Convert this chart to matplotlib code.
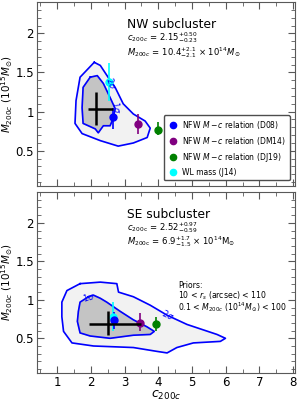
import matplotlib.pyplot as plt
import numpy as np
from matplotlib.ticker import MultipleLocator

# NW subcluster contours (c200c, M200c in 1e15 Msun)
nw_2s_c = [2.10, 1.68, 1.56, 1.53, 1.74, 2.28, 2.81, 3.26, 3.67, 3.76, 3.61, 3.26, 2.96, 2.72, 2.51, 2.28]
nw_2s_m = [1.63, 1.44, 1.14, 0.85, 0.72, 0.63, 0.56, 0.60, 0.67, 0.79, 0.88, 0.97, 1.10, 1.31, 1.44, 1.59]
nw_1s_c = [1.98, 1.77, 1.74, 1.77, 2.13, 2.22, 2.37, 2.57, 2.66, 2.72, 2.57, 2.37, 2.19]
nw_1s_m = [1.44, 1.31, 1.05, 0.85, 0.78, 0.73, 0.82, 0.82, 0.91, 1.04, 1.18, 1.36, 1.46]
nw_best = (2.15, 0.50, 0.23, 1.04, 0.21, 0.21)

# SE subcluster contours
se_2s_c = [1.68, 1.29, 1.14, 1.14, 1.19, 1.44, 2.08, 3.26, 3.96, 4.26, 4.55, 5.04, 5.84, 5.99, 5.74, 4.85, 4.26, 3.76, 3.26, 2.82, 2.77, 2.28]
se_2s_m = [1.21, 1.12, 0.97, 0.78, 0.59, 0.44, 0.40, 0.38, 0.33, 0.31, 0.38, 0.44, 0.46, 0.50, 0.55, 0.68, 0.80, 0.93, 1.04, 1.10, 1.21, 1.23]
se_1s_c = [1.93, 1.68, 1.63, 1.60, 1.68, 1.98, 2.57, 3.26, 3.76, 3.88, 3.66, 3.26, 2.87, 2.47, 2.28, 2.08]
se_1s_m = [1.04, 0.97, 0.85, 0.72, 0.57, 0.53, 0.50, 0.54, 0.55, 0.59, 0.65, 0.74, 0.85, 0.97, 1.02, 1.06]
se_best = (2.52, 0.97, 0.59, 0.69, 0.17, 0.15)

# comparison points: c, M, M_err_up, M_err_down
labels = ['NFW $M-c$ relation (D08)', 'NFW $M-c$ relation (DM14)',
          'NFW $M-c$ relation (DJ19)', 'WL mass (J14)']
colors = ['blue', 'purple', 'green', 'cyan']
nw_pts_c = [2.66, 3.40, 4.00, 2.54]
nw_pts_m = [0.93, 0.84, 0.77, 1.38]
nw_pts_eu = [0.12, 0.13, 0.10, 0.24]
nw_pts_ed = [0.15, 0.12, 0.07, 0.24]
se_pts_c = [2.69, 3.46, 3.93, 2.67]
se_pts_m = [0.74, 0.70, 0.68, 0.78]
se_pts_eu = [0.10, 0.13, 0.10, 0.19]
se_pts_ed = [0.12, 0.11, 0.09, 0.19]

fig = plt.figure(figsize=(3.0, 4.01), dpi=100)
ax1 = fig.add_axes([0.123, 0.536, 0.86, 0.459])
ax2 = fig.add_axes([0.123, 0.070, 0.86, 0.451])


def panel(ax, c2, m2, c1, m1, best, pc, pm, peu, ped):
    ax.fill(c2, m2, color='#f2f2f2', zorder=1)
    ax.plot(c2 + c2[:1], m2 + m2[:1], color='blue', lw=1.2, zorder=2)
    ax.fill(c1, m1, color='#c4c4c4', zorder=2)
    ax.plot(c1 + c1[:1], m1 + m1[:1], color='blue', lw=1.2, zorder=3)
    c, cu, cd, m, mu, md = best
    ax.errorbar([c], [m], xerr=[[cd], [cu]], yerr=[[md], [mu]], fmt='none',
                ecolor='black', elinewidth=1.8, capsize=0, zorder=6)
    for i in [3, 0, 1, 2]:
        ax.errorbar([pc[i]], [pm[i]], yerr=[[ped[i]], [peu[i]]], fmt='o',
                    color=colors[i], ms=5, elinewidth=1.2, capsize=0,
                    label=labels[i], zorder=5)
    ax.set_xlim(0.4, 8.05)
    ax.set_ylim(0.05, 2.4)
    ax.xaxis.set_major_locator(MultipleLocator(1))
    ax.xaxis.set_minor_locator(MultipleLocator(0.5))
    ax.yaxis.set_minor_locator(MultipleLocator(0.1))
    ax.set_yticks([0.5, 1, 1.5, 2])
    ax.set_yticklabels(['0.5', '1', '1.5', '2'])
    ax.tick_params(which='both', direction='in', top=True, right=True,
                   labelsize=8.5, color='0.35', pad=2)
    ax.tick_params(which='major', length=5)
    ax.tick_params(which='minor', length=3)
    for s in ax.spines.values():
        s.set_color('0.35')
    ax.set_ylabel(r'$M_{200c}$ $(10^{15}M_{\odot})$', fontsize=7.5)
    ax.yaxis.set_label_coords(-0.083, 0.5)


panel(ax1, nw_2s_c, nw_2s_m, nw_1s_c, nw_1s_m, nw_best, nw_pts_c, nw_pts_m, nw_pts_eu, nw_pts_ed)
panel(ax2, se_2s_c, se_2s_m, se_1s_c, se_1s_m, se_best, se_pts_c, se_pts_m, se_pts_eu, se_pts_ed)

ax1.set_xticklabels([])
ax2.set_xticks([1, 2, 3, 4, 5, 6, 7, 8])
ax2.set_xticklabels(['1', '2', '3', '4', '5', '6', '7', '8'])
ax2.set_xlabel(r'$c_{200c}$', fontsize=9, labelpad=0)

# contour labels
ax1.text(2.62, 1.37, r'$2\sigma$', color='blue', fontsize=6, rotation=-70,
         ha='center', va='center', zorder=7)
ax1.text(2.75, 1.05, r'$1\sigma$', color='blue', fontsize=6, rotation=-80,
         ha='center', va='center', zorder=7)
ax2.text(1.93, 1.04, r'$1\sigma$', color='blue', fontsize=6, rotation=15,
         ha='center', va='center', zorder=7)
ax2.text(4.3, 0.80, r'$2\sigma$', color='blue', fontsize=6, rotation=-25,
         ha='center', va='center', zorder=7)

# annotations
x0 = 3.08
ax1.text(x0, 2.11, 'NW subcluster', fontsize=8.8, va='center')
ax1.text(x0, 1.95, r'$c_{200c}$ = 2.15$^{+0.50}_{-0.23}$', fontsize=6.1, va='center')
ax1.text(x0, 1.76, r'$M_{200c}$ = 10.4$^{+2.1}_{-2.1}$ $\times$ 10$^{14}M_{\odot}$', fontsize=6.1, va='center')
ax2.text(x0, 2.11, 'SE subcluster', fontsize=8.8, va='center')
ax2.text(x0, 1.945, r'$c_{\rm 200c}$ = 2.52$^{+0.97}_{-0.59}$', fontsize=6.1, va='center')
ax2.text(x0, 1.755, r'$M_{\rm 200c}$ = 6.9$^{+1.7}_{-1.5}$ $\times$ 10$^{14}$M$_{\odot}$', fontsize=6.1, va='center')
ax2.text(4.59, 1.18, 'Priors:', fontsize=5.6, va='center')
ax2.text(4.59, 1.055, r'10 < $r_s$ (arcsec) < 110', fontsize=5.6, va='center')
ax2.text(4.59, 0.90, r'0.1 < $M_{200c}$ (10$^{14}M_{\odot}$) < 100', fontsize=5.6, va='center')

handles, labs = ax1.get_legend_handles_labels()
order = [labs.index(l) for l in labels]
ax1.legend([handles[i][0] for i in order], [labs[i] for i in order],
           loc='lower right', fontsize=5.5, handletextpad=0.4, borderpad=0.5,
           labelspacing=0.5, handlelength=1.5, markerscale=0.9,
           framealpha=1, edgecolor='0.3', bbox_to_anchor=(0.995, 0.01))

fig.savefig('out.png', dpi=100)
